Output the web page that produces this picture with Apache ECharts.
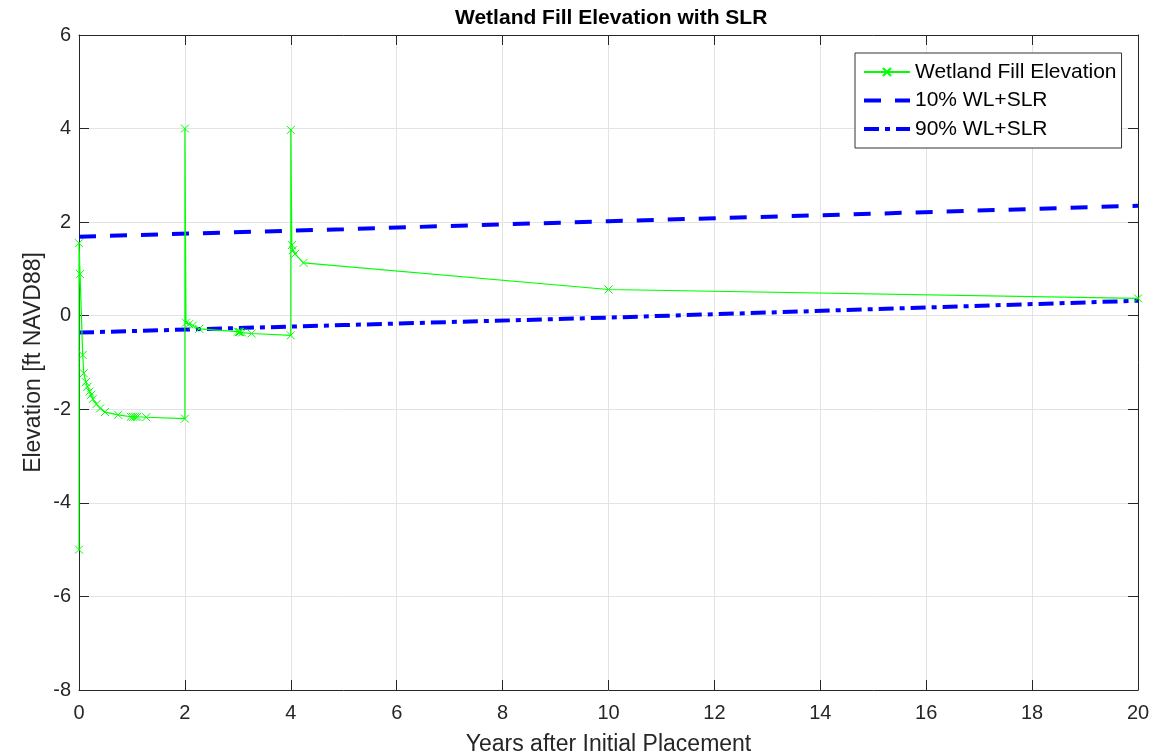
<!DOCTYPE html>
<html>
<head>
<meta charset="utf-8">
<title>Wetland Fill Elevation with SLR</title>
<script src="https://cdn.jsdelivr.net/npm/echarts@6/dist/echarts.min.js"></script>
<style>
  html, body { margin: 0; padding: 0; background: #fff; }
  #chart { width: 1175px; height: 754px; }
</style>
</head>
<body>
<div id="chart"></div>
<script>
// wetland fill elevation (years, ft NAVD88)
const fillYears = [0, 0, 0.02, 0.07, 0.09, 0.13, 0.16, 0.2, 0.23, 0.26, 0.33, 0.4, 0.49, 0.74,
  0.98, 1.02, 1.06, 1.1, 1.27, 2.0,
  2.0, 2.02, 2.08, 2.15, 2.27, 3.0, 3.02, 3.04, 3.08, 3.26, 4.0,
  4.0, 4.02, 4.04, 4.08, 4.24, 10, 20]
const fillElev = [-5, 1.55, 0.89, -0.84, -1.23, -1.42, -1.52, -1.62, -1.69, -1.78, -1.89, -1.98, -2.06, -2.12,
  -2.16, -2.16, -2.16, -2.16, -2.17, -2.2,
  4.0, -0.15, -0.18, -0.21, -0.28, -0.34, -0.35, -0.35, -0.36, -0.38, -0.42,
  3.97, 1.51, 1.4, 1.32, 1.13, 0.56, 0.37]

// water level + sea level rise
const slrYears = [0, 5, 10, 15, 20]
const wl10 = [1.69, 1.85, 2.02, 2.18, 2.35]
const wl90 = [-0.36, -0.2, -0.04, 0.14, 0.32]

const xTicks = { min: 0, max: 20, interval: 2 }
const yTicks = { min: -8, max: 6, interval: 2 }

const font = '"Liberation Sans", Arial, Helvetica, sans-serif'
const axisColor = '#262626'
const gridColor = '#e3e3e3'

const pairs = (xs, ys) => xs.map((x, i) => [x, ys[i]])

const chart = echarts.init(document.getElementById('chart'))

// top / right edges of the box, ticks only
const boxAxis = {
  axisLine: { show: true, onZero: false, lineStyle: { color: axisColor, width: 1 } },
  axisTick: { show: true, inside: true, length: 10, lineStyle: { color: axisColor } },
  axisLabel: { show: false },
  splitLine: { show: false }
}

const option = {
  backgroundColor: '#fff',
  animation: false,
  title: {
    text: 'Wetland Fill Elevation with SLR',
    left: 450,
    top: 3,
    textStyle: { fontFamily: font, fontSize: 21, fontWeight: 'bold', color: '#000' }
  },
  legend: {
    orient: 'vertical',
    left: 855,
    top: 53,
    padding: [7, 5, 7, 7],
    itemWidth: 46,
    itemHeight: 10,
    itemGap: 4.5,
    backgroundColor: '#fff',
    borderColor: '#333',
    borderWidth: 1,
    textStyle: { fontFamily: font, fontSize: 21, color: '#000', lineHeight: 24 },
    data: [
      { name: 'Wetland Fill Elevation' },
      { name: '10% WL+SLR', itemStyle: { opacity: 0 }, lineStyle: { width: 4 } },
      { name: '90% WL+SLR', itemStyle: { opacity: 0 }, lineStyle: { width: 4 } }
    ]
  },
  grid: { left: 79, right: 37, top: 35, bottom: 64, outerBoundsMode: 'none' },
  xAxis: [
    {
      type: 'value',
      ...xTicks,
      name: 'Years after Initial Placement',
      nameLocation: 'middle',
      nameGap: 43,
      nameMoveOverlap: false,
      nameTextStyle: { fontFamily: font, fontSize: 23, color: axisColor },
      axisLine: { show: true, onZero: false, lineStyle: { color: axisColor } },
      axisTick: { show: true, inside: true, length: 10, lineStyle: { color: axisColor } },
      axisLabel: { fontFamily: font, fontSize: 20, color: axisColor, margin: 13 },
      splitLine: { show: true, lineStyle: { color: gridColor } }
    },
    { type: 'value', position: 'top', ...xTicks, ...boxAxis }
  ],
  yAxis: [
    {
      type: 'value',
      ...yTicks,
      name: 'Elevation [ft NAVD88]',
      nameLocation: 'middle',
      nameGap: 34,
      nameMoveOverlap: false,
      nameTextStyle: { fontFamily: font, fontSize: 23, color: axisColor },
      axisLine: { show: true, onZero: false, lineStyle: { color: axisColor } },
      axisTick: { show: true, inside: true, length: 10, lineStyle: { color: axisColor } },
      axisLabel: { fontFamily: font, fontSize: 20, color: axisColor, margin: 8 },
      splitLine: { show: true, lineStyle: { color: gridColor } }
    },
    { type: 'value', position: 'right', ...yTicks, ...boxAxis }
  ],
  series: [
    {
      name: 'Wetland Fill Elevation',
      type: 'line',
      data: pairs(fillYears, fillElev),
      color: '#00ff00',
      lineStyle: { color: '#00ff00', width: 1.2 },
      symbol: 'path://M0,0L10,10M10,0L0,10',
      symbolSize: 8,
      itemStyle: { color: 'rgba(0,0,0,0)', borderColor: '#00ff00', borderWidth: 1 },
      z: 3
    },
    {
      name: '10% WL+SLR',
      type: 'line',
      data: pairs(slrYears, wl10),
      color: '#0000ff',
      symbol: 'none',
      lineStyle: { color: '#0000ff', width: 4, type: [17, 14] },
      z: 2
    },
    {
      name: '90% WL+SLR',
      type: 'line',
      data: pairs(slrYears, wl90),
      color: '#0000ff',
      symbol: 'none',
      lineStyle: { color: '#0000ff', width: 4, type: [15, 6, 5, 6] },
      z: 2
    }
  ]
}

chart.setOption(option)
</script>
</body>
</html>
